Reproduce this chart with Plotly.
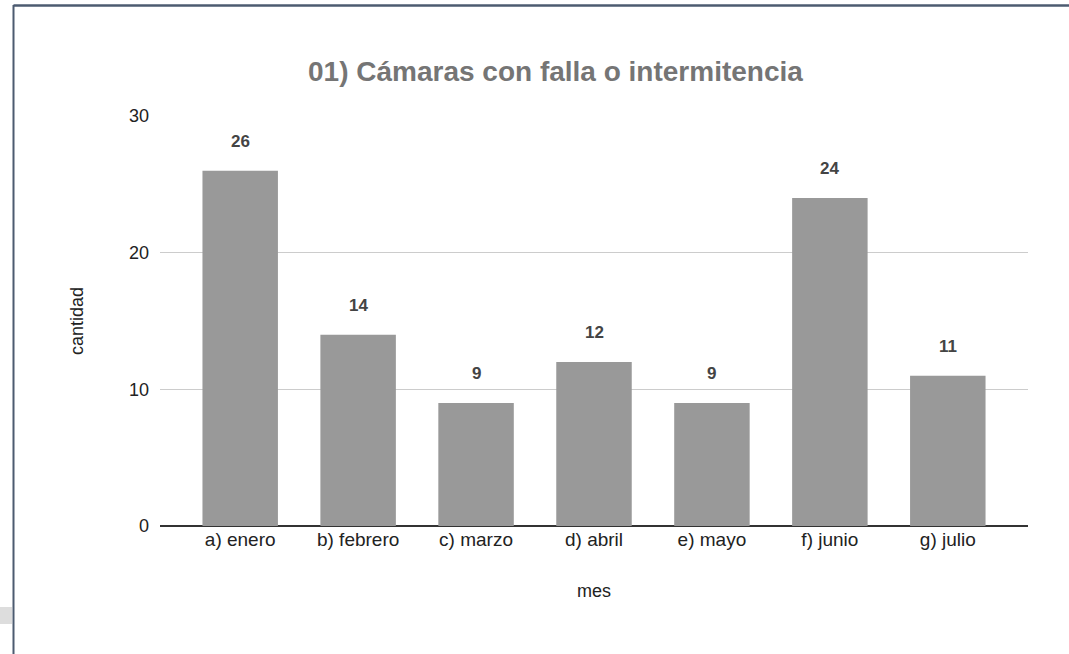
import plotly.graph_objects as go

# Monthly counts of cameras with faults or intermittency
meses = ["a) enero", "b) febrero", "c) marzo", "d) abril", "e) mayo", "f) junio", "g) julio"]
cantidad = [26, 14, 9, 12, 9, 24, 11]
y_ticks = [0, 10, 20, 30]

W, H = 1069, 654
ML, MR, MT, MB = 160, 41, 116, 128
pw, ph = W - ML - MR, H - MT - MB

def px_x(x):
    return (x - ML) / pw

def px_y(y):
    return (H - MB - y) / ph

FONT = "Liberation Sans, Arial, sans-serif"

fig = go.Figure(
    go.Bar(
        x=list(range(len(meses))),
        y=cantidad,
        marker=dict(color="#999999", line=dict(width=0)),
        width=0.64,
        hoverinfo="x+y",
    )
)

# value labels above each bar
for i, v in enumerate(cantidad):
    fig.add_annotation(
        x=i, y=v, text=f"<b>{v}</b>", showarrow=False,
        yanchor="bottom", yshift=18,
        font=dict(family=FONT, size=17, color="#444444"),
    )

border = "#4c5b70"
fig.update_layout(
    width=W, height=H,
    margin=dict(l=ML, r=MR, t=MT, b=MB),
    paper_bgcolor="white", plot_bgcolor="white",
    showlegend=False,
    title=dict(
        text="<b>01) Cámaras con falla o intermitencia</b>",
        x=px_x(308), xref="paper", xanchor="left",
        y=1 - 71 / H, yanchor="middle",
        font=dict(family=FONT, size=28, color="#757575"),
    ),
    xaxis=dict(
        range=[-0.68, 6.68],
        tickmode="array", tickvals=list(range(len(meses))), ticktext=meses,
        showgrid=False, zeroline=False, showline=False, ticks="",
        tickfont=dict(family=FONT, size=19, color="#222222"),
        title=dict(text="mes", font=dict(family=FONT, size=18, color="#222222"), standoff=35),
    ),
    yaxis=dict(
        range=[0, 30], tickvals=y_ticks,
        showgrid=True, gridcolor="#cccccc", gridwidth=1,
        zeroline=True, zerolinecolor="#333333", zerolinewidth=1.5,
        showline=False, ticks="", ticklabelstandoff=10,
        tickfont=dict(family=FONT, size=18, color="#222222"),
        title=dict(text="cantidad", font=dict(family=FONT, size=18, color="#222222"), standoff=40),
    ),
    shapes=[
        dict(type="line", xref="paper", yref="paper",
             x0=px_x(13.5), x1=px_x(W + 2), y0=px_y(5.5), y1=px_y(5.5),
             line=dict(color=border, width=2.5)),
        dict(type="line", xref="paper", yref="paper",
             x0=px_x(13.5), x1=px_x(13.5), y0=px_y(5), y1=px_y(H + 2),
             line=dict(color=border, width=2)),
        dict(type="rect", xref="paper", yref="paper",
             x0=px_x(0), x1=px_x(12), y0=px_y(607), y1=px_y(624),
             fillcolor="#dddddd", line=dict(width=0), layer="below"),
    ],
)

fig.write_html("out.html")
